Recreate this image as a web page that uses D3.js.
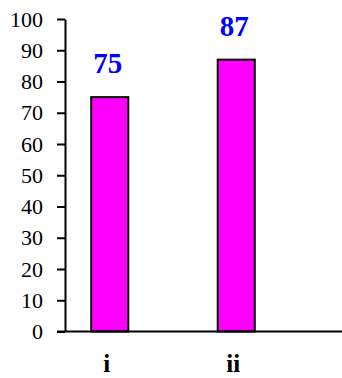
<!DOCTYPE html>
<html><head><meta charset="utf-8">
<script src="https://cdn.jsdelivr.net/npm/d3@7"></script>
<style>html,body{margin:0;padding:0;background:#fff;} svg text{font-family:"Liberation Serif","Times New Roman",Times,serif;}</style>
</head><body><svg id="c" width="342" height="378"></svg>
<script>
const categories = ["i", "ii"];
const values = [75, 87];
const yTicks = [0, 10, 20, 30, 40, 50, 60, 70, 80, 90, 100];

const FONT = '"Liberation Serif", "Times New Roman", Times, serif';
const svg = d3.select("#c");
const y = d3.scaleLinear().domain([0, 100]).range([331.5, 19]);
const x = d3.scaleBand().domain(categories).range([46.5, 299.5]).paddingInner(0.707).paddingOuter(0.3535);
const axisX0 = 65;

// y axis
const yAxis = svg.append("g").attr("transform", `translate(${axisX0},0)`)
  .call(d3.axisLeft(y).tickValues(yTicks).tickSize(8).tickPadding(14).tickSizeOuter(0));
yAxis.attr("font-family", null).attr("font-size", null);
yAxis.select(".domain").attr("stroke", "#000").attr("stroke-width", 2);
yAxis.selectAll(".tick line").attr("stroke", "#000").attr("stroke-width", 2);
yAxis.selectAll(".tick text").style("font-family", FONT)
  .style("font-size", "22px").attr("fill", "#000");

// bars
svg.append("g").selectAll("rect").data(values).join("rect")
  .attr("x", (d, i) => x(categories[i]))
  .attr("y", d => y(d))
  .attr("width", x.bandwidth())
  .attr("height", d => y(0) - y(d))
  .attr("fill", "#ff00ff").attr("stroke", "#000").attr("stroke-width", 2);

// x axis line
svg.append("line").attr("x1", axisX0 - 8).attr("x2", 342).attr("y1", y(0)).attr("y2", y(0))
  .attr("stroke", "#000").attr("stroke-width", 2);

// value labels
svg.append("g").selectAll("text").data(values).join("text")
  .attr("x", (d, i) => x(categories[i]) + x.bandwidth() / 2 - 2)
  .attr("y", d => y(d) - 24)
  .attr("text-anchor", "middle")
  .style("font-family", FONT)
  .style("font-weight", "bold").style("font-size", "29px").attr("fill", "#0000ff")
  .text(d => d);

// category labels
svg.append("g").selectAll("text").data(categories).join("text")
  .attr("x", d => x(d) + x.bandwidth() / 2 - 3)
  .attr("y", 372)
  .attr("text-anchor", "middle")
  .style("font-family", FONT)
  .style("font-weight", "bold").style("font-size", "25px").attr("fill", "#000")
  .text(d => d);
</script></body></html>
